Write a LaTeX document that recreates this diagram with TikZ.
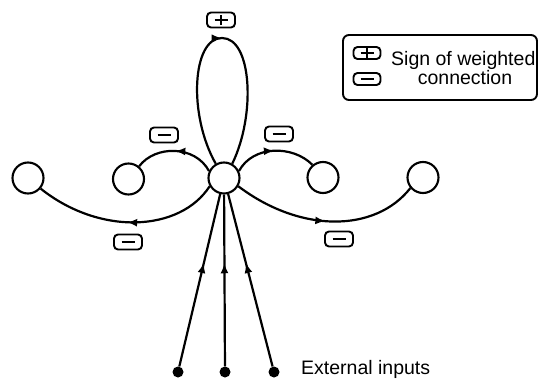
\documentclass[tikz,border=0pt]{standalone}
\usepackage{fontspec}
\setmainfont{Liberation Sans}
\usetikzlibrary{arrows.meta,decorations.markings}
\newcommand{\sgnminus}{\rule[-1.4pt]{13pt}{2.8pt}}
\newcommand{\sgnplus}{\rule[-1.3pt]{13pt}{2.6pt}\llap{\rule[-5pt]{2.6pt}{10pt}\hspace{5.2pt}}}
\begin{document}
\begin{tikzpicture}[x=1pt,y=-1pt,
  neuron/.style={circle,draw,line width=2.1pt,minimum size=31pt,inner sep=0pt},
  conn/.style={line width=2.2pt},
  midarrow/.style={postaction={decorate},decoration={markings,mark=at position #1 with {\arrow{Latex[length=10pt,width=8pt]}}}},
  midarrow/.default=0.5,
  signbox/.style={draw,line width=1.9pt,rounded corners=4pt,minimum width=28pt,minimum height=15pt,inner sep=0pt},
  dot/.style={circle,fill,inner sep=0pt,minimum size=11pt},
  lbl/.style={font=\fontsize{19.5}{22}\selectfont,inner sep=0pt}]
\useasboundingbox (0,0) rectangle (541,380);
% neurons
\node[neuron] (c) at (224,178) {};
\node[neuron] (li) at (128.5,179) {};
\node[neuron] (lo) at (28,178) {};
\node[neuron] (ri) at (323,177.5) {};
\node[neuron] (ro) at (423,177.5) {};
% self loop
\draw[conn,midarrow] (c.120) .. controls (188,115) and (192,38) .. (222,38) .. controls (252,38) and (256,115) .. (c.60);
% lateral connections
\draw[conn,midarrow] (c.155) .. controls (195,145) and (155,145) .. (li.50);
\draw[conn,midarrow] (c.25) .. controls (253,145) and (293,145) .. (ri.130);
\draw[conn,midarrow] (c.210) .. controls (180,232) and (100,236) .. (lo.-40);
\draw[conn,midarrow] (c.-30) .. controls (300,233) and (375,233) .. (ro.220);
% external inputs
\node[dot] (d1) at (178,372) {};
\node[dot] (d2) at (225,372) {};
\node[dot] (d3) at (274,372) {};
\draw[conn,midarrow=0.6] (d1) -- (c);
\draw[conn,midarrow=0.6] (d2) -- (c);
\draw[conn,midarrow=0.6] (d3) -- (c);
% sign boxes
\node[signbox] (sp) at (221,20) {\sgnplus};
\node[signbox] (s1) at (164,135) {\sgnminus};
\node[signbox] (s2) at (279,134) {\sgnminus};
\node[signbox] (s3) at (128,242) {\sgnminus};
\node[signbox] (s4) at (339,239) {\sgnminus};
% legend
\node[draw,line width=1.9pt,rounded corners=6pt,minimum width=194pt,minimum height=65pt,inner sep=0pt] (leg) at (440,67.5) {};
\node[signbox,minimum width=27pt,minimum height=12pt] (lp) at (367,53) {\sgnplus};
\node[signbox,minimum width=27pt,minimum height=12pt] (lm) at (367,79) {\sgnminus};
\node[lbl,anchor=base west] (t1) at (391,65) {Sign of weighted};
\node[lbl,anchor=base] (t2) at (465,84) {connection};
\node[lbl,anchor=base west] (ext) at (301,374) {External inputs};
\end{tikzpicture}
\end{document}
